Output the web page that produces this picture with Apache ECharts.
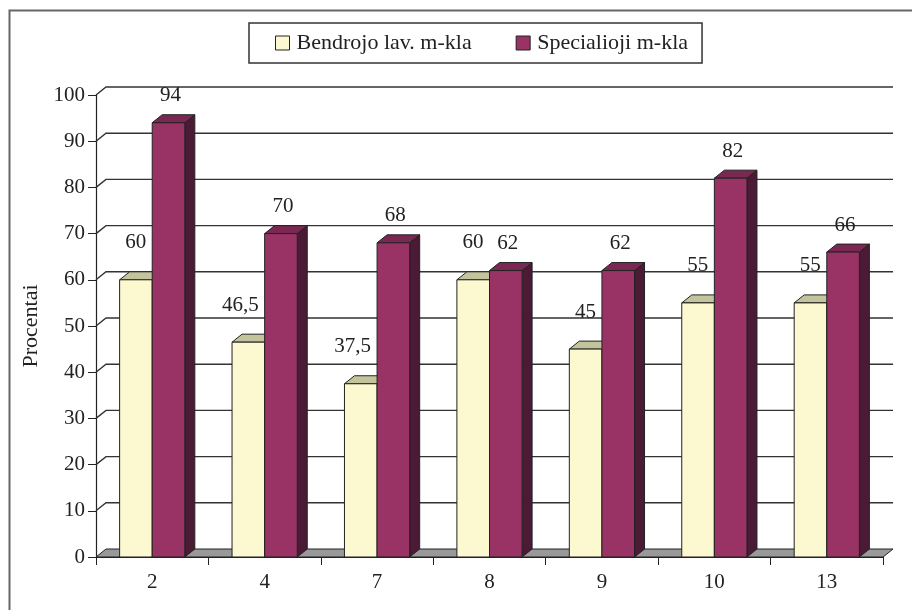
<!DOCTYPE html>
<html>
<head>
<meta charset="utf-8">
<script src="https://cdn.jsdelivr.net/npm/echarts@6/dist/echarts.min.js"></script>
<style>
  html, body { margin: 0; padding: 0; background: #fff; }
  #chart { width: 912px; height: 610px; }
</style>
</head>
<body>
<div id="chart"></div>
<script>
  const categories = ['2', '4', '7', '8', '9', '10', '13']
  const bendrojo = [60, 46.5, 37.5, 60, 45, 55, 55]
  const specialioji = [94, 70, 68, 62, 62, 82, 66]
  const yTicks = [0, 10, 20, 30, 40, 50, 60, 70, 80, 90, 100]

  // depth of the fake 3d
  const DX = 10
  const DY = 8
  const BAR = 0.29
  const FONT = '"Liberation Serif", "Times New Roman", serif'

  function barBox (side, api) {
    let idx = api.value(0)
    let val = api.value(1)
    let top = api.coord([idx, val])
    let base = api.coord([idx, 0])
    let bw = api.size([1, 0])[0] * BAR
    let x0 = side < 0 ? top[0] - bw : top[0]
    return { x0: x0, x1: x0 + bw, yT: top[1], yB: base[1], val: val }
  }

  function barRenderer (side, faces) {
    return function (params, api) {
      let b = barBox(side, api)
      let line = { stroke: '#222', lineWidth: 1 }
      return {
        type: 'group',
        children: [
          {
            type: 'polygon',
            shape: { points: [[b.x1, b.yT], [b.x1 + DX, b.yT - DY], [b.x1 + DX, b.yB - DY], [b.x1, b.yB]] },
            style: Object.assign({ fill: faces.side }, line)
          },
          {
            type: 'polygon',
            shape: { points: [[b.x0, b.yT], [b.x1, b.yT], [b.x1 + DX, b.yT - DY], [b.x0 + DX, b.yT - DY]] },
            style: Object.assign({ fill: faces.top }, line)
          },
          {
            type: 'rect',
            shape: { x: b.x0, y: b.yT, width: b.x1 - b.x0, height: b.yB - b.yT },
            style: Object.assign({ fill: faces.front }, line)
          }
        ]
      }
    }
  }

  function labelRenderer (side, gap) {
    return function (params, api) {
      let b = barBox(side, api)
      return {
        type: 'text',
        style: {
          text: String(b.val).replace('.', ','),
          x: side < 0 ? b.x1 - 6 : (b.x0 + b.x1) / 2 + 2,
          y: b.yT - gap,
          align: side < 0 ? 'right' : 'center',
          verticalAlign: 'middle',
          fontSize: 21,
          fontFamily: FONT,
          fill: '#222'
        }
      }
    }
  }

  function wallRenderer (params, api) {
    let cs = params.coordSys
    let v = api.value(1)
    let y = api.coord([0, v])[1]
    let xl = cs.x
    let xr = cs.x + cs.width
    if (v === 0) {
      return {
        type: 'polygon',
        shape: { points: [[xl, y], [xr, y], [xr + DX, y - DY], [xl + DX, y - DY]] },
        style: { fill: '#999', stroke: '#222', lineWidth: 1 }
      }
    }
    return {
      type: 'polyline',
      shape: { points: [[xl, y], [xl + DX, y - DY], [xr + DX, y - DY]] },
      style: { fill: null, stroke: '#333', lineWidth: 1.4 }
    }
  }

  const yellow = { front: '#fcf8cf', top: '#c4c49c', side: '#9a9870' }
  const wine = { front: '#993366', top: '#7a2852', side: '#4b1a35' }

  const chart = echarts.init(document.getElementById('chart'))
  chart.setOption({
    animation: false,
    backgroundColor: '#fff',
    textStyle: { fontFamily: FONT, color: '#222' },
    graphic: [{
      type: 'polyline',
      shape: { points: [[9.5, 610], [9.5, 10.5], [912, 10.5]] },
      style: { fill: null, stroke: '#666', lineWidth: 2 }
    }],
    legend: {
      data: ['Bendrojo lav. m-kla', 'Specialioji m-kla'],
      left: 249,
      top: 23,
      padding: [9, 14, 9, 26],
      borderColor: '#333',
      borderWidth: 1.5,
      icon: 'rect',
      itemWidth: 14,
      itemHeight: 14,
      itemGap: 44,
      itemStyle: { borderColor: '#222', borderWidth: 1 },
      textStyle: { fontSize: 22, fontFamily: FONT, color: '#222', padding: [0, 0, 0, 2] }
    },
    grid: {
      left: 96,
      right: 29,
      top: 95,
      bottom: 53,
      containLabel: false,
      outerBoundsMode: 'none'
    },
    xAxis: {
      type: 'category',
      data: categories,
      axisLine: { lineStyle: { color: '#222', width: 1.2 } },
      axisTick: { show: true, length: 8, lineStyle: { color: '#222' } },
      axisLabel: { fontSize: 21, fontFamily: FONT, color: '#222', margin: 15 },
      splitLine: { show: false }
    },
    yAxis: {
      type: 'value',
      min: 0,
      max: 100,
      interval: 10,
      name: 'Procentai',
      nameLocation: 'middle',
      nameRotate: 90,
      nameGap: 49,
      nameTextStyle: { fontSize: 22, fontFamily: FONT, color: '#222' },
      axisLine: { show: true, lineStyle: { color: '#222', width: 1.2 } },
      axisTick: { show: true, length: 8, lineStyle: { color: '#222' } },
      axisLabel: { fontSize: 21, fontFamily: FONT, color: '#222', margin: 11, padding: [4, 0, 0, 0] },
      splitLine: { show: false }
    },
    series: [
      {
        name: 'wall',
        type: 'custom',
        z: 1,
        silent: true,
        renderItem: wallRenderer,
        data: yTicks.map(v => [0, v])
      },
      {
        name: 'Bendrojo lav. m-kla',
        type: 'custom',
        z: 2,
        itemStyle: { color: yellow.front },
        renderItem: barRenderer(-1, yellow),
        data: bendrojo.map((v, i) => [i, v])
      },
      {
        name: 'Specialioji m-kla',
        type: 'custom',
        z: 3,
        itemStyle: { color: wine.front },
        renderItem: barRenderer(1, wine),
        data: specialioji.map((v, i) => [i, v])
      },
      {
        name: 'label-b',
        type: 'custom',
        z: 4,
        silent: true,
        renderItem: labelRenderer(-1, 37),
        data: bendrojo.map((v, i) => [i, v])
      },
      {
        name: 'label-s',
        type: 'custom',
        z: 4,
        silent: true,
        renderItem: labelRenderer(1, 27),
        data: specialioji.map((v, i) => [i, v])
      }
    ]
  })
</script>
</body>
</html>
